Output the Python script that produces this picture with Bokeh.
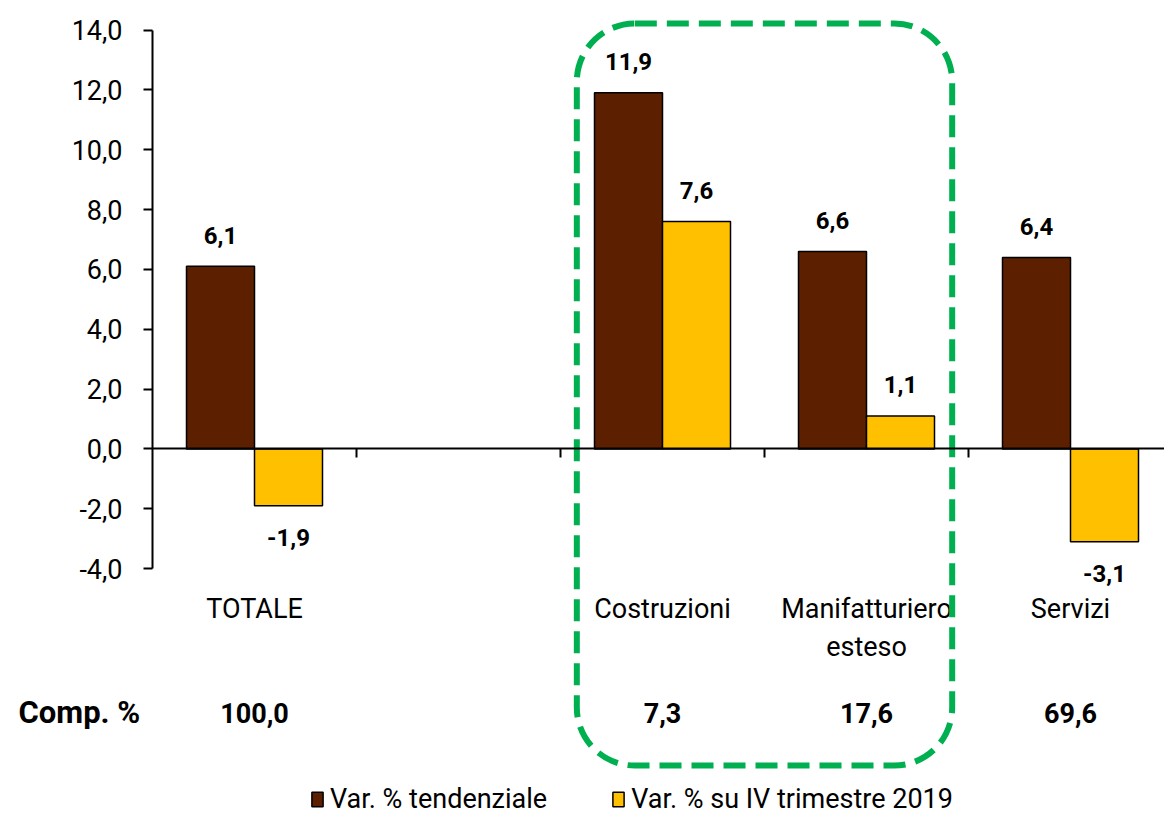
from bokeh.plotting import figure
from bokeh.models import Range1d, FixedTicker, LinearAxis, Legend, LegendItem
from bokeh.core.properties import value
from bokeh.embed import file_html
from bokeh.resources import INLINE

# ---------------- data ----------------
categories = ["TOTALE", "", "Costruzioni", "Manifatturiero\nesteso", "Servizi"]
var_tendenziale = [6.1, None, 11.9, 6.6, 6.4]
var_iv_2019 = [-1.9, None, 7.6, 1.1, -3.1]
composizione = ["100,0", "", "7,3", "17,6", "69,6"]
comp_title = "Comp. %"
series_names = ["Var. % tendenziale", "Var. % su IV trimestre 2019"]
y_ticks = [-4, -2, 0, 2, 4, 6, 8, 10, 12, 14]
y_tick_labels = ["-4,0", "-2,0", "0,0", "2,0", "4,0", "6,0", "8,0", "10,0", "12,0", "14,0"]
highlighted = ["Costruzioni", "Manifatturiero\nesteso"]

# ---------------- style ----------------
FONT_NAME = "Roboto"
FONT = value(FONT_NAME)
BROWN = "#5C1F00"
YELLOW = "#FFC000"
GREEN = "#00B050"

W, H = 1164, 820
AXIS_X_PX = 152        # pixel position of the value axis
CAT_PX = 204.0         # pixels per category slot
PXU = 29.92            # pixels per y unit
TOP_PX = 29.5          # pixels from top to y=14
Y_MAX, Y_MIN = 14, -4
y_top = Y_MAX + TOP_PX / PXU
y_bottom = Y_MIN - (H - TOP_PX - (Y_MAX - Y_MIN) * PXU) / PXU
x_start = -AXIS_X_PX / CAT_PX
x_end = (W - AXIS_X_PX) / CAT_PX


def below(y, px):
    return y - px / PXU


def fmt(v):
    return f"{v:.1f}".replace(".", ",")


p = figure(width=W, height=H, output_backend="svg", toolbar_location=None,
           x_range=Range1d(x_start, x_end), y_range=Range1d(y_bottom, y_top),
           x_axis_location=None, y_axis_location=None,
           min_border_left=0, min_border_right=0, min_border_top=0,
           min_border_bottom=0)
p.outline_line_color = None
p.background_fill_color = "white"
p.border_fill_color = "white"

# value axis (drawn at x = 0)
yax = LinearAxis(fixed_location=0, ticker=FixedTicker(ticks=y_ticks))
yax.major_label_overrides = {t: l for t, l in zip(y_ticks, y_tick_labels)}
yax.bounds = (Y_MIN, Y_MAX)
yax.major_tick_in = 0
yax.major_tick_out = 9
yax.minor_tick_in = 0
yax.minor_tick_out = 0
yax.axis_line_width = 2
yax.major_tick_line_width = 2
yax.axis_line_color = "black"
yax.major_tick_line_color = "black"
yax.major_label_text_font = FONT_NAME
yax.major_label_text_font_size = "27px"
yax.major_label_text_color = "black"
yax.major_label_standoff = 21
p.add_layout(yax, "left")

# category axis (drawn at y = 0)
bounds_x = list(range(0, len(categories) + 1))
xax = LinearAxis(fixed_location=0, ticker=FixedTicker(ticks=bounds_x[1:]))
xax.bounds = (0, x_end)
xax.major_label_text_font_size = "0px"
xax.major_label_text_alpha = 0
xax.major_tick_in = 0
xax.major_tick_out = 9
xax.minor_tick_in = 0
xax.minor_tick_out = 0
xax.axis_line_width = 2
xax.major_tick_line_width = 2
xax.axis_line_color = "black"
xax.major_tick_line_color = "black"
p.add_layout(xax, "below")
p.grid.visible = False

# bars
bw = 1 / 3
idx = [i for i, v in enumerate(var_tendenziale) if v is not None]
xb = [i + 0.5 - bw / 2 for i in idx]
xy = [i + 0.5 + bw / 2 for i in idx]
vb = [var_tendenziale[i] for i in idx]
vy = [var_iv_2019[i] for i in idx]

r1 = p.vbar(x=xb, top=vb, bottom=0, width=bw, fill_color=BROWN,
            line_color="black", line_width=1.5)
r2 = p.vbar(x=xy, top=vy, bottom=0, width=bw, fill_color=YELLOW,
            line_color="black", line_width=1.5)

# data labels
for xs, vs in ((xb, vb), (xy, vy)):
    p.text(x=xs, y=vs, text=[fmt(v) for v in vs],
           y_offset=[-31 if v > 0 else 32 for v in vs],
           text_align="center", text_baseline="middle",
           text_font=FONT, text_font_size="24px", text_font_style="bold",
           text_color="black")

# category labels
cx = [i + 0.5 for i in range(len(categories))]
p.text(x=cx, y=[Y_MIN] * len(cx), text=categories, y_offset=24,
       text_align="center", text_baseline="top", text_line_height=1.2,
       text_font=FONT, text_font_size="27px", text_color="black")

# composition row
p.text(x=cx, y=[below(Y_MIN, 144)] * len(cx), text=composizione,
       text_align="center", text_baseline="middle",
       text_font=FONT, text_font_size="27px", text_font_style="bold",
       text_color="black")
p.text(x=[(18 - AXIS_X_PX) / CAT_PX], y=[below(Y_MIN, 144)], text=[comp_title],
       text_align="left", text_baseline="middle",
       text_font=FONT, text_font_size="31px", text_font_style="bold",
       text_color="black")

# highlight box
h0 = categories.index(highlighted[0])
h1 = categories.index(highlighted[-1]) + 1
pad = 0.08
p.quad(left=h0 + pad, right=h1 - pad, top=Y_MAX + 6.5 / PXU,
       bottom=below(Y_MIN, 197), fill_color=None, line_color=GREEN,
       line_width=6, line_dash="22 10", border_radius=58)

legend = Legend(items=[LegendItem(label=series_names[0], renderers=[r1]),
                       LegendItem(label=series_names[1], renderers=[r2])],
                orientation="horizontal", location=(310, 5),
                border_line_color=None, background_fill_alpha=0,
                padding=0, margin=0, spacing=64, label_standoff=6,
                glyph_width=14, glyph_height=18,
                label_text_font=FONT_NAME, label_text_font_size="27px",
                label_text_color="black")
p.add_layout(legend)

open("out.html", "w").write(file_html(p, INLINE))
